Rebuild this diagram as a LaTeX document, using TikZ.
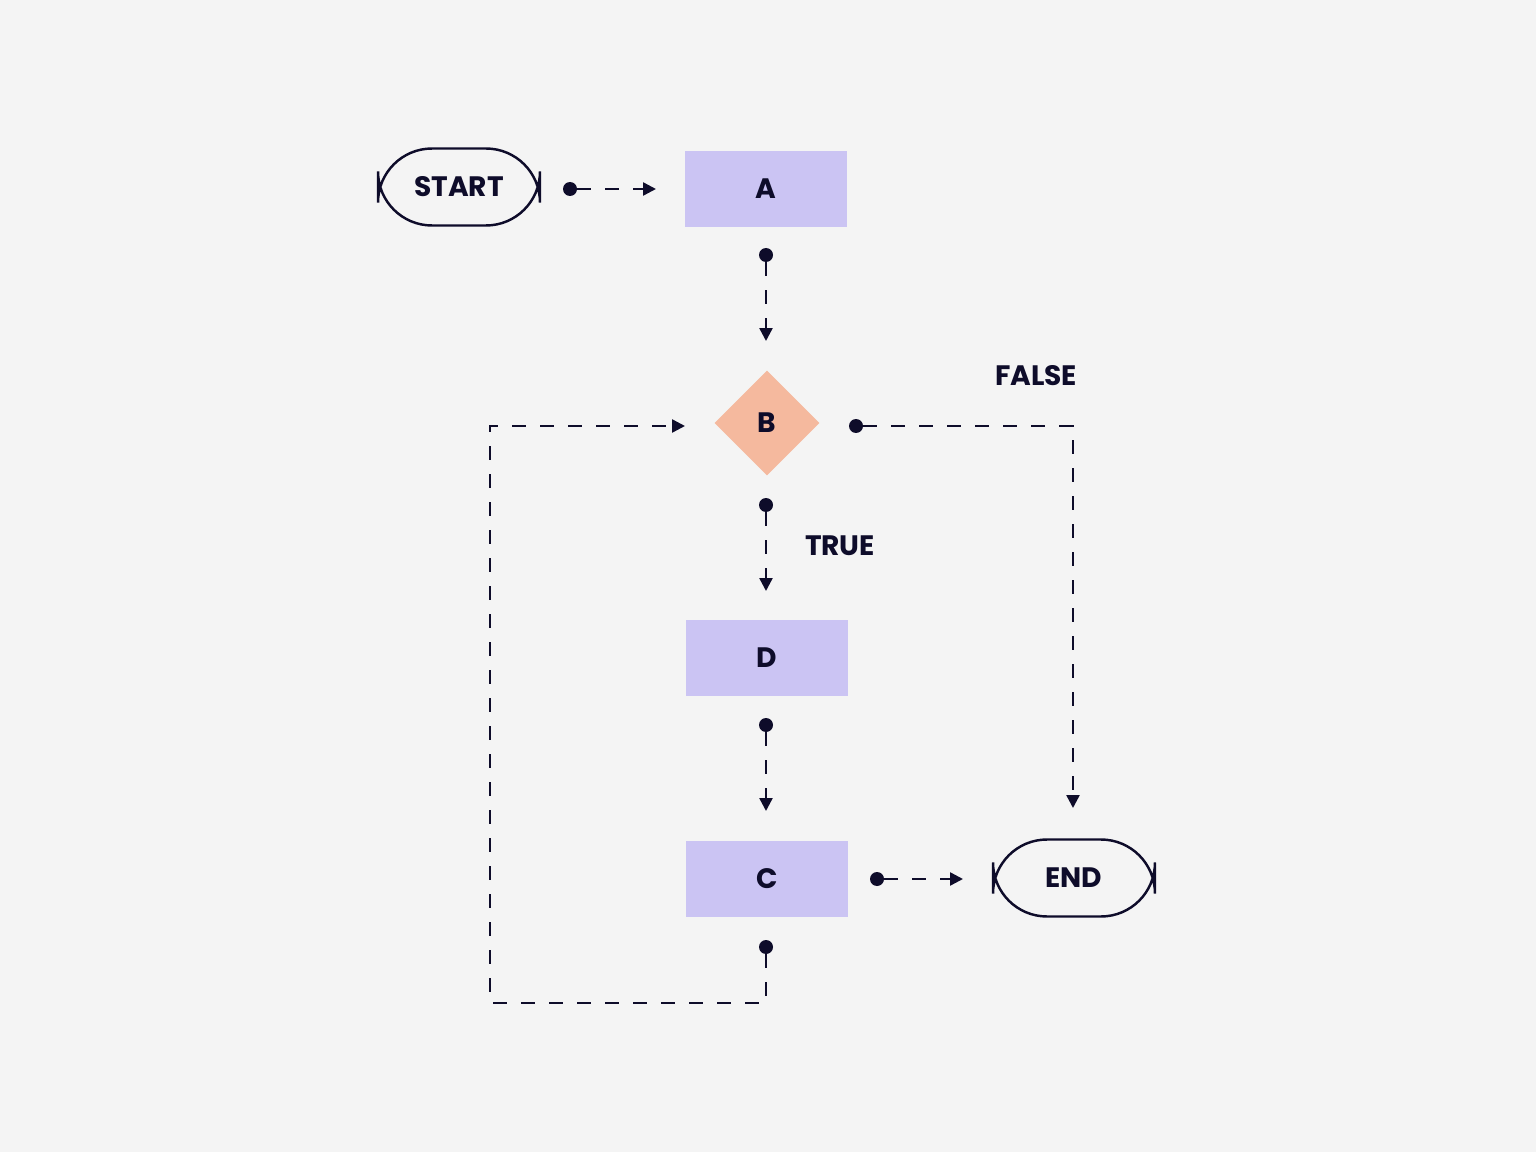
\documentclass[tikz,border=0pt]{standalone}
\usepackage{fontspec}
\setmainfont{Poppins}
\usetikzlibrary{arrows.meta,shapes.geometric}
\definecolor{bgcol}{HTML}{F4F4F4}
\definecolor{inkcol}{HTML}{0E0C2A}
\definecolor{boxcol}{HTML}{CBC4F3}
\definecolor{deccol}{HTML}{F5B99E}
\begin{document}
\begin{tikzpicture}[x=0.02cm,y=-0.02cm,
  txt/.style={font=\bfseries\fontsize{16}{16}\selectfont,text=inkcol},
  term/.style={txt,draw=inkcol,line width=1.4pt,rounded corners=1.08cm,minimum width=3.24cm,minimum height=1.54cm,inner sep=0pt},
  proc/.style={txt,fill=boxcol,minimum width=3.26cm,minimum height=1.52cm,inner sep=0pt},
  dot/.style={circle,fill=inkcol,minimum size=0.28cm,inner sep=0pt},
  flow/.style={draw=inkcol,line width=1.4pt,dash pattern=on 0.28cm off 0.28cm,-{Triangle[length=0.26cm,width=0.26cm]}}]
\fill[bgcol] (0,0) rectangle (1536,1152);
\useasboundingbox (0,0) rectangle (1536,1152);
% blocks
\node[term] (start) at (459,187) {START};
\node[proc] (a) at (766,189) {A};
\node[diamond,fill=deccol,minimum width=2.1cm,minimum height=2.1cm,inner sep=0pt,txt] (b) at (767,423) {B};
\node[proc] (d) at (767,658) {D};
\node[proc] (c) at (767,879) {C};
\node[term] (end) at (1074,878) {END};
% ports
\node[dot] (p1) at (570,189) {};
\node[dot] (p2) at (766,255) {};
\node[dot] (p3) at (766,505) {};
\node[dot] (p4) at (856,426) {};
\node[dot] (p5) at (766,725) {};
\node[dot] (p6) at (877,879) {};
\node[dot] (p7) at (766,947) {};
\coordinate (t1) at (656,189);
\coordinate (t2) at (766,341);
\coordinate (t3) at (766,591);
\coordinate (t4) at (1073,808);
\coordinate (t5) at (766,811);
\coordinate (t6) at (963,879);
\coordinate (t7) at (685,426);
% flows
\draw[flow] (p1) -- (t1);
\draw[flow] (p2) -- (t2);
\draw[flow] (p3) -- (t3);
\draw[flow] (p4) -- (1073,426) -- (t4);
\draw[flow] (p5) -- (t5);
\draw[flow] (p6) -- (t6);
\draw[flow] (p7) -- (766,1003) -- (490,1003) -- (490,426) -- (t7);
% labels
\node[txt] (lt) at (840,546) {TRUE};
\node[txt] (lf) at (1036,376) {FALSE};
\end{tikzpicture}
\end{document}
